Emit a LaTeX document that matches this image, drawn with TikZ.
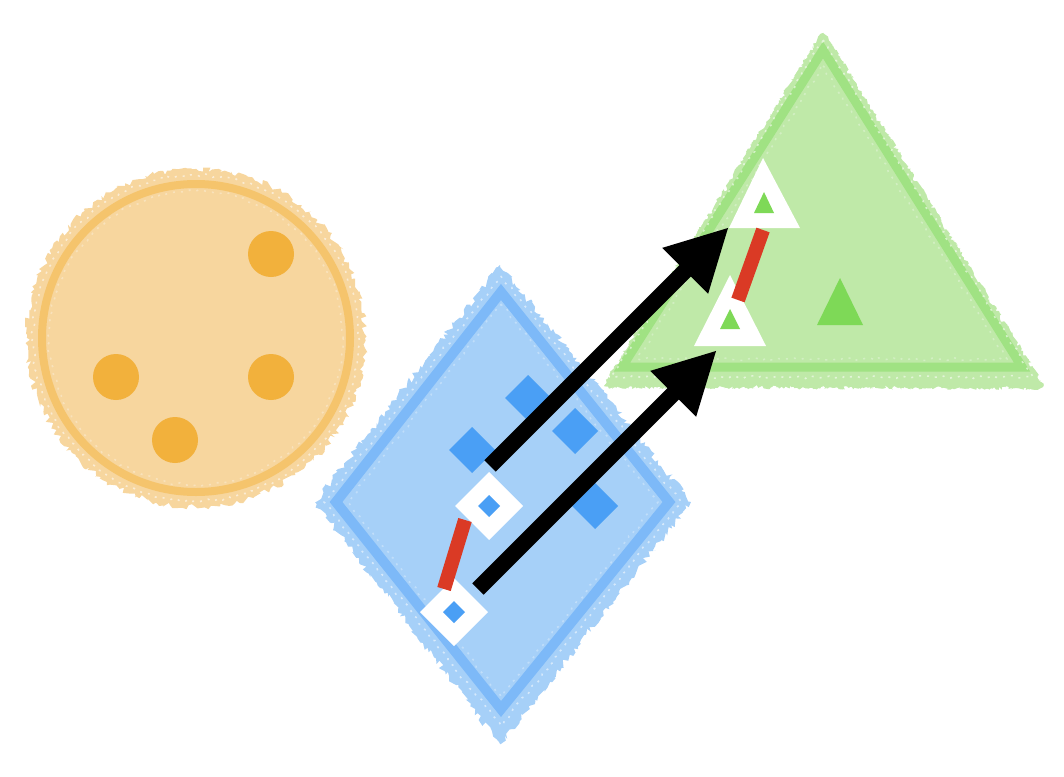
\documentclass[tikz,border=0pt]{standalone}
\usetikzlibrary{arrows.meta,decorations.pathmorphing}
\definecolor{orfill}{HTML}{F7D69E}
\definecolor{orring}{HTML}{F5C46C}
\definecolor{ordot}{HTML}{F2B13C}
\definecolor{bluefill}{HTML}{A6D0F8}
\definecolor{bluestroke}{HTML}{7DB9F8}
\definecolor{bluesq}{HTML}{4A9FF5}
\definecolor{grfill}{HTML}{BFE9A8}
\definecolor{grstroke}{HTML}{A0E283}
\definecolor{grsolid}{HTML}{7ED957}
\definecolor{redline}{HTML}{DA3A25}
\tikzset{
  rough/.style={decorate,decoration={random steps,segment length=3pt,amplitude=3pt}},
  speck/.style={draw=white,opacity=.55,line width=1.6pt,dash pattern=on 2pt off 6pt,decorate,decoration={random steps,segment length=4pt,amplitude=1.5pt}},
  link/.style={draw=redline,line width=14pt,line cap=butt},
  bigarrow/.style={draw=black,line width=16pt,-{Triangle[length=62pt,width=60pt]}},
}
\newcommand\dmd[4][]{\fill[#1] (#2,#3) ++(0,-#4) -- ++(#4,#4) -- ++(-#4,#4) -- ++(-#4,-#4) -- cycle;}
\pgfmathsetseed{7}
\begin{document}
\begin{tikzpicture}[x=1pt,y=-1pt,line join=miter]
\useasboundingbox (0,0) rectangle (1064,776);
% orange circle
\fill[orfill,rough] (196,338) circle[radius=169];
\draw[orring,line width=8pt] (196,338) circle[radius=154];
\draw[speck] (196,338) circle[radius=163];
\draw[speck,opacity=.3] (196,338) circle[radius=147];
\foreach \x/\y in {271/254,116/377,271/377,175/440}
  \fill[ordot] (\x,\y) circle[radius=23];
% blue rhombus
\fill[bluefill,rough] (500,265) -- (691,502) -- (500,744) -- (315,502) -- cycle;
\filldraw[fill=bluefill,draw=bluestroke,line width=10pt] (501,292) -- (669,502) -- (501,709) -- (336,502) -- cycle;
\draw[speck] (501,276) -- (681,502) -- (501,726) -- (324,502) -- cycle;
\draw[speck,opacity=.3] (501,304) -- (658,502) -- (501,697) -- (348,502) -- cycle;
\foreach \x/\y in {528/398,472/450,575/431,595/506}
  \dmd[bluesq]{\x}{\y}{23}
% green triangle
\fill[grfill,rough] (823,33) -- (1043,387) -- (604,386) -- cycle;
\filldraw[fill=grfill,draw=grstroke,line width=9pt] (823,50) -- (1022,367) -- (622,367) -- cycle;
\draw[speck] (823,40) -- (1033,377) -- (612,377) -- cycle;
\draw[speck,opacity=.3] (823,66) -- (1007,359) -- (637,359) -- cycle;
\fill[grsolid] (840,278) -- (863,325) -- (817,325) -- cycle;
% white-outlined diamonds
\coordinate (d1) at (489,506);
\coordinate (d2) at (454,612);
\dmd[white]{489}{506}{34}
\dmd[bluesq]{489}{506}{11}
\dmd[white]{454}{612}{34}
\dmd[bluesq]{454}{612}{11}
% white-outlined triangles
\fill[white] (763,158) -- (800,228) -- (729,228) -- cycle;
\fill[grsolid] (764,192) -- (774,213) -- (754,213) -- cycle;
\fill[white] (730,275) -- (766,346) -- (694,346) -- cycle;
\fill[grsolid] (730,309) -- (740,329) -- (720,329) -- cycle;
% connector ends
\coordinate (r1a) at (465,520);
\coordinate (r1b) at (444,589);
\coordinate (r2a) at (763,230);
\coordinate (r2b) at (738,300);
\coordinate (a1s) at (490,466);
\coordinate (a1e) at (729,227);
\coordinate (a2s) at (478,589);
\coordinate (a2e) at (717,350);
% red links
\draw[link] (r1a) -- (r1b);
\draw[link] (r2a) -- (r2b);
% arrows
\draw[bigarrow] (a1s) -- (a1e);
\draw[bigarrow] (a2s) -- (a2e);
\end{tikzpicture}
\end{document}
